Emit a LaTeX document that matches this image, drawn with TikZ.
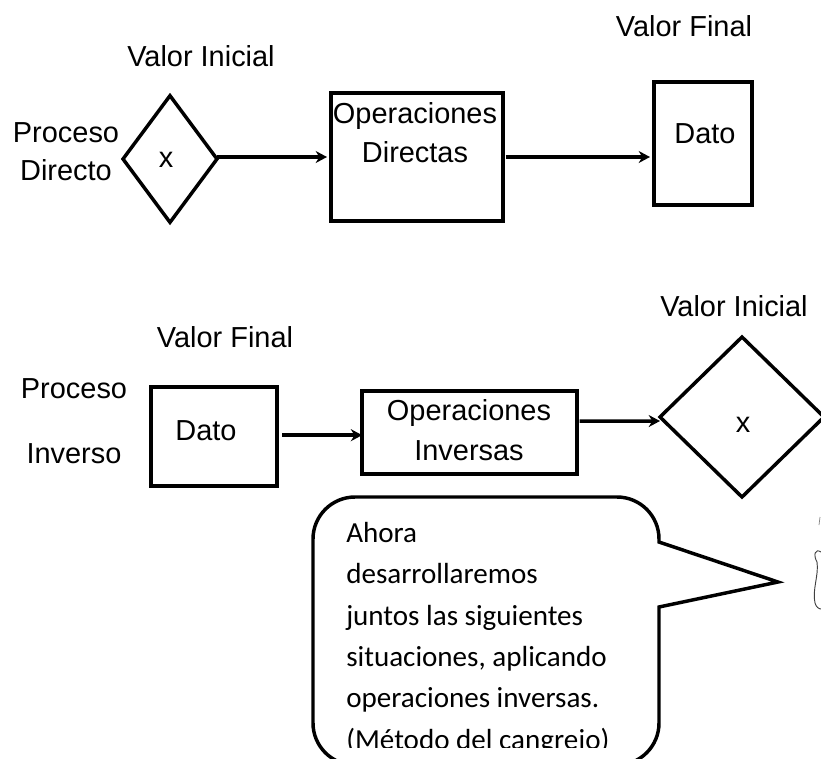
\documentclass[tikz,border=0pt]{standalone}
\usepackage{fontspec}
\setmainfont{Liberation Sans}
\newfontfamily\carlito{Carlito}
\usetikzlibrary{arrows.meta,shapes.geometric}
\tikzset{
  caja/.style={draw, line width=2.6pt, outer sep=0pt, inner sep=0pt},
  rombo/.style={caja, diamond, aspect=1},
  flecha/.style={line width=2.6pt, -{Stealth[length=8.5pt,width=9pt]}},
  rotulo/.style={anchor=base, inner sep=0pt, font=\fontsize{21.7}{25}\selectfont},
}
\begin{document}
\begin{tikzpicture}[x=0.75pt,y=-0.75pt]
\clip (0,0) rectangle (821,758);

% proceso directo
\node[rombo, minimum width=70.5pt, minimum height=95pt] (xdir) at (170,159) {};
\node[caja, minimum width=129pt, minimum height=96pt] (opdir) at (417,157) {};
\node[caja, minimum width=73.5pt, minimum height=92pt] (datofin) at (703,143.5) {};

\draw[flecha] (xdir.east |- opdir.west) -- ([xshift=-3pt]opdir.west);
\draw[flecha] ([xshift=2pt]opdir.east) -- ([xshift=-3pt]opdir.east -| datofin.west);

\node[rotulo] (iniA) at (201,66) {Valor Inicial};
\node[rotulo] (finA) at (684,36) {Valor Final};
\node[rotulo] (procA) at (66,142) {Proceso};
\node[rotulo] (dirA) at (66,180) {Directo};
\node[rotulo] (xA) at (166,167) {x};
\node[rotulo] (opA) at (415,123) {Operaciones};
\node[rotulo] (opB) at (415,162) {Directas};
\node[rotulo] (datoA) at (705,143) {Dato};

% proceso inverso
\node[caja, minimum width=94.5pt, minimum height=74pt] (datoinv) at (214,436.5) {};
\node[caja, minimum width=161pt, minimum height=62pt] (opinv) at (469.5,432.5) {};
\node[rombo, minimum width=123pt, minimum height=120pt] (xinv) at (742,417) {};

\draw[flecha] ([xshift=4pt,yshift=1pt]datoinv.east) -- ([yshift=1pt]datoinv.east -| opinv.west);
\draw[flecha] ([xshift=2pt,yshift=8.5pt]opinv.east) -- ([yshift=-3pt]xinv.west);

\node[rotulo] (finB) at (225,347) {Valor Final};
\node[rotulo] (iniB) at (734,316) {Valor Inicial};
\node[rotulo] (procB) at (74,398) {Proceso};
\node[rotulo] (invB) at (74,463) {Inverso};
\node[rotulo] (datoB) at (206,440) {Dato};
\node[rotulo] (opC) at (469,420) {Operaciones};
\node[rotulo] (opD) at (469,460) {Inversas};
\node[rotulo] (xB) at (743,432) {x};

% globo de texto
\draw[caja, miter limit=10] (659,607) {[rounded corners=31.5pt] -- (659,765) -- (313,765) -- (313,497) -- (659,497)} -- (659,542) -- (778,582) -- cycle;
\begin{scope}
\clip (320,505) rectangle (650,747);
\node[anchor=north west, inner sep=0pt, align=left, font={\carlito\fontsize{21.8}{31}\selectfont}] (globo) at (346,522) {Ahora\\desarrollaremos\\juntos las siguientes\\situaciones, aplicando\\operaciones inversas.\\(Método del cangrejo)};
\end{scope}

% trazos del dibujo al borde
\draw[line width=0.7pt, black!75] (821,552) .. controls (815,548) and (813,555) .. (817,562) .. controls (819,575) and (812,590) .. (815,603) .. controls (816,607) and (819,609) .. (821,609);
\draw[line width=0.5pt, black!50] (820,517) -- (819,525);
\end{tikzpicture}
\end{document}
